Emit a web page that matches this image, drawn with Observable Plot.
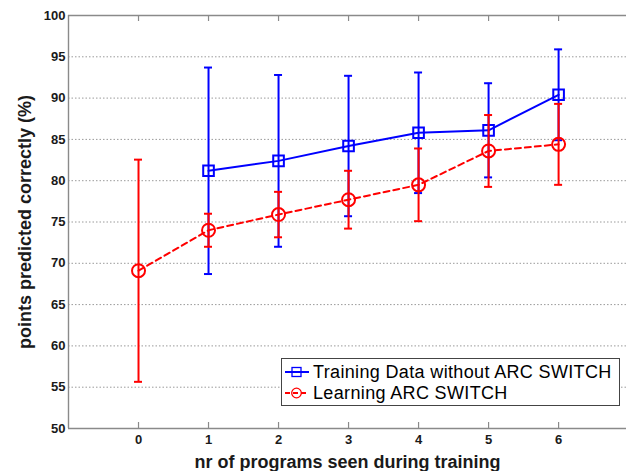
<!DOCTYPE html>
<html>
<head>
<meta charset="utf-8">
<script src="https://cdn.jsdelivr.net/npm/d3@7"></script>
<script src="https://cdn.jsdelivr.net/npm/@observablehq/plot@0.6"></script>
<style>
  html, body { margin: 0; padding: 0; background: #fff; }
  #wrap { position: relative; width: 626px; height: 471px; overflow: hidden; }
  #legend {
    position: absolute; left: 281px; top: 358px; width: 337px; height: 46px;
    border: 1px solid #444; background: #fff;
    font-family: "Liberation Sans", Arial, sans-serif; font-size: 18px; letter-spacing: 0.35px; color: #000;
  }
  .row { position: absolute; left: 0; height: 22px; display: flex; align-items: center; }
  .row svg { display: block; }
  .row span { margin-left: 3px; white-space: nowrap; }
</style>
</head>
<body>
<div id="wrap"></div>
<script>
// ---- data ----
const xTicks = [0, 1, 2, 3, 4, 5, 6];
const yTicks = [50, 55, 60, 65, 70, 75, 80, 85, 90, 95, 100];
const gridTicks = [55, 60, 65, 70, 75, 80, 85, 90, 95];

const seriesNames = ["Training Data without ARC SWITCH", "Learning ARC SWITCH"];

const blueX = [1, 2, 3, 4, 5, 6];
const blueMean = [81.2, 82.4, 84.2, 85.8, 86.1, 90.4];
const blueErr = [12.5, 10.4, 8.5, 7.3, 5.7, 5.5];

const redX = [0, 1, 2, 3, 4, 5, 6];
const redMean = [69.1, 74.0, 75.9, 77.7, 79.5, 83.6, 84.4];
const redErr = [13.45, 2.0, 2.75, 3.5, 4.4, 4.35, 4.9];

const xLabel = "nr of programs seen during training";
const yLabel = "points predicted correctly (%)";

// ---- tables ----
const blue = blueX.map((x, i) => ({x, y: blueMean[i], lo: blueMean[i] - blueErr[i], hi: blueMean[i] + blueErr[i]}));
const red = redX.map((x, i) => ({x, y: redMean[i], lo: redMean[i] - redErr[i], hi: redMean[i] + redErr[i]}));

const BLUE = "#0000ff", RED = "#ff0000";
const AXIS = "#8a8a8a";
const TXT = "#1a1a1a";
const font = "Liberation Sans, Arial, sans-serif";

function series(data, color, dash, symbol, r) {
  return [
    Plot.line(data, {x: "x", y: "y", stroke: color, strokeWidth: 2, strokeDasharray: dash}),
    Plot.ruleX(data, {x: "x", y1: "lo", y2: "hi", stroke: color, strokeWidth: 2}),
    Plot.ruleY(data, {y: "hi", x1: "x", x2: "x", insetLeft: -4, insetRight: -4, stroke: color, strokeWidth: 2}),
    Plot.ruleY(data, {y: "lo", x1: "x", x2: "x", insetLeft: -4, insetRight: -4, stroke: color, strokeWidth: 2}),
    Plot.dot(data, {x: "x", y: "y", stroke: color, strokeWidth: 2, fill: "none", symbol, r})
  ];
}

const chart = Plot.plot({
  width: 626,
  height: 471,
  marginLeft: 68,
  marginRight: 0,
  marginTop: 15,
  marginBottom: 43,
  x: {domain: [-1, 6.97], axis: null},
  y: {domain: [50, 100], axis: null},
  style: {fontFamily: font, background: "#fff", overflow: "visible"},
  marks: [
    // dotted grid
    Plot.ruleY(gridTicks, {stroke: "#9a9a9a", strokeWidth: 1, strokeDasharray: "1.5,2"}),
    // box (left, top, bottom)
    Plot.ruleY([50, 100], {stroke: AXIS, strokeWidth: 1.4}),
    Plot.ruleX([-1], {stroke: AXIS, strokeWidth: 1.4}),
    // inward tick marks, bottom and top
    Plot.ruleX(xTicks, {x: d => d, y1: 50, y2: 50, insetBottom: 6, stroke: AXIS, strokeWidth: 1.2}),
    Plot.ruleX(xTicks, {x: d => d, y1: 100, y2: 100, insetTop: 6, stroke: AXIS, strokeWidth: 1.2}),
    // tick labels
    Plot.text(xTicks, {x: d => d, text: d => String(d), frameAnchor: "bottom", lineAnchor: "middle", dy: 11,
      fontSize: 13, fontWeight: "bold", fill: TXT}),
    Plot.text(yTicks, {y: d => d, text: d => String(d), frameAnchor: "left", textAnchor: "end", lineAnchor: "middle", dx: -3,
      fontSize: 13, fontWeight: "bold", fill: TXT}),
    // axis titles
    Plot.text([xLabel], {text: d => d, frameAnchor: "bottom", lineAnchor: "middle", textAnchor: "middle", dy: 34,
      fontSize: 18, fontWeight: "bold", fill: TXT, letterSpacing: "0.1px"}),
    Plot.text([yLabel], {text: d => d, frameAnchor: "left", lineAnchor: "middle", textAnchor: "middle", dx: -43, rotate: -90,
      fontSize: 18, fontWeight: "bold", fill: TXT, letterSpacing: "0.1px"}),
    // series
    ...series(blue, BLUE, null, "square", 6),
    ...series(red, RED, "6,4", "circle", 6.5)
  ]
});

const wrap = document.getElementById("wrap");
wrap.appendChild(chart);

// legend overlay inside the axes
const legend = document.createElement("div");
legend.id = "legend";
const legendItems = [
  {name: seriesNames[0], color: BLUE, dash: "", marker: "square"},
  {name: seriesNames[1], color: RED, dash: "5,3", marker: "circle"}
];
legendItems.forEach((it, i) => {
  const row = document.createElement("div");
  row.className = "row";
  row.style.top = (2 + i * 21) + "px";
  const m = it.marker === "square"
    ? `<rect x="10" y="6.5" width="9" height="9" fill="none" stroke="${it.color}" stroke-width="1.3"/>`
    : `<circle cx="14.5" cy="11" r="4.8" fill="none" stroke="${it.color}" stroke-width="1.3"/>`;
  row.innerHTML = `<svg width="28" height="22"><line x1="3" x2="27" y1="11" y2="11" stroke="${it.color}" stroke-width="2" stroke-dasharray="${it.dash}"/>${m}</svg><span>${it.name}</span>`;
  legend.appendChild(row);
});
wrap.appendChild(legend);
</script>
</body>
</html>
